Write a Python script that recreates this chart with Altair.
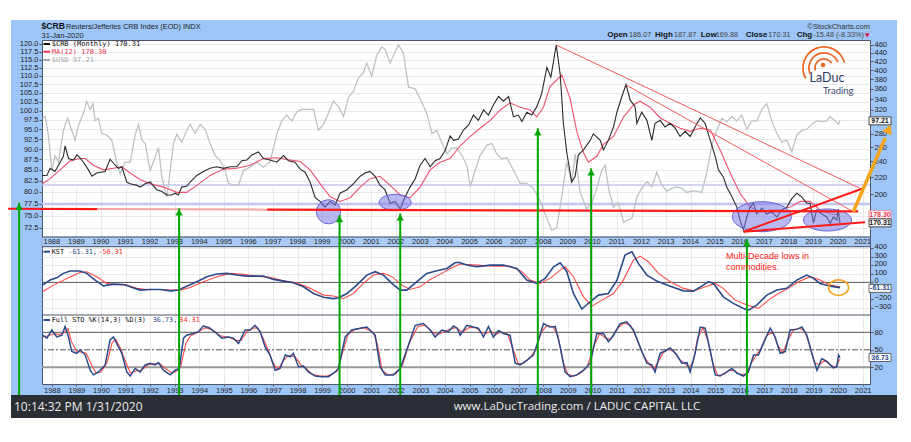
import altair as alt
import pandas as pd

# ---------------- data ----------------
year_ticks = list(range(1988, 2022))

crb_pts = [[1987.62,222],[1987.80,222],[1987.93,231],[1988.13,227],[1988.34,239],[1988.47,247],[1988.54,262],[1988.68,244],
[1988.88,242],[1989.02,249],[1989.12,246],[1989.29,239],[1989.49,229],[1989.63,221],[1989.83,225],[1990.17,227],[1990.37,243],
[1990.58,235],[1990.71,231],[1990.85,233],[1991.05,214],[1991.19,212],[1991.46,210],[1991.59,208],[1991.80,212],[1992.00,214],
[1992.27,205],[1992.48,203],[1992.68,199],[1992.88,199],[1993.02,201],[1993.15,199],[1993.29,208],[1993.49,209],[1993.63,214],
[1993.90,222],[1994.17,227],[1994.44,231],[1994.71,233],[1994.99,231],[1995.26,233],[1995.53,233],[1995.73,241],[1995.94,242],
[1996.14,249],[1996.41,253],[1996.61,244],[1996.88,242],[1997.16,239],[1997.43,248],[1997.63,241],[1997.90,239],[1998.11,230],
[1998.31,226],[1998.51,214],[1998.72,196],[1998.92,192],[1999.12,186],[1999.33,192],[1999.53,188],[1999.73,201],[2000.01,205],
[2000.28,212],[2000.55,221],[2000.75,225],[2000.95,227],[2001.16,221],[2001.36,210],[2001.56,205],[2001.77,190],[2001.97,192],
[2002.18,184],[2002.38,197],[2002.58,208],[2002.79,218],[2002.99,235],[2003.19,244],[2003.40,233],[2003.60,241],[2003.80,244],
[2004.01,255],[2004.21,277],[2004.35,270],[2004.55,272],[2004.75,286],[2004.96,294],[2005.16,311],[2005.36,302],[2005.57,320],
[2005.77,311],[2005.97,329],[2006.18,345],[2006.38,336],[2006.59,345],[2006.79,308],[2006.99,311],[2007.13,300],[2007.33,316],
[2007.53,311],[2007.74,326],[2007.94,351],[2008.15,406],[2008.31,384],[2008.53,460],[2008.69,391],[2008.82,297],[2008.96,252],
[2009.16,214],[2009.30,221],[2009.43,249],[2009.64,256],[2009.91,270],[2010.04,280],[2010.32,270],[2010.45,256],[2010.65,270],
[2010.86,291],[2011.00,316],[2011.20,345],[2011.37,369],[2011.54,338],[2011.74,326],[2011.81,297],[2012.01,316],[2012.22,302],
[2012.42,270],[2012.55,297],[2012.76,302],[2012.96,291],[2013.16,297],[2013.37,289],[2013.57,276],[2013.78,284],[2013.98,276],
[2014.18,291],[2014.39,306],[2014.59,297],[2014.80,270],[2015.00,247],[2015.13,229],[2015.33,220],[2015.47,208],[2015.68,197],
[2015.88,186],[2016.01,173],[2016.15,164],[2016.29,176],[2016.42,186],[2016.56,190],[2016.69,179],[2016.90,185],[2017.10,179],
[2017.30,181],[2017.51,176],[2017.71,183],[2017.91,186],[2018.12,195],[2018.32,201],[2018.52,197],[2018.73,190],[2018.86,190],
[2019.00,170],[2019.13,183],[2019.34,179],[2019.54,176],[2019.68,170],[2019.81,176],[2019.95,173],[2020.00,184],[2020.08,170.31]]

ma_pts = [[1987.62,212],[1987.93,218],[1988.34,229],[1988.74,241],[1989.15,244],[1989.36,244],[1989.69,235],[1990.10,229],
[1990.51,231],[1990.85,233],[1991.19,225],[1991.59,217],[1992.00,212],[1992.54,208],[1993.09,202],[1993.49,202],[1993.90,210],
[1994.44,222],[1994.99,230],[1995.53,231],[1996.07,235],[1996.61,244],[1997.16,245],[1997.70,242],[1998.11,240],[1998.51,229],
[1998.92,212],[1999.33,197],[1999.73,192],[2000.14,196],[2000.55,208],[2000.95,218],[2001.36,221],[2001.77,210],[2002.18,199],
[2002.58,196],[2002.99,208],[2003.40,229],[2003.80,239],[2004.21,244],[2004.62,262],[2005.03,276],[2005.43,289],[2005.84,302],
[2006.25,320],[2006.65,333],[2007.06,325],[2007.47,320],[2007.74,308],[2008.01,325],[2008.28,365],[2008.76,389],[2009.10,340],
[2009.37,283],[2009.64,252],[2009.84,239],[2010.18,247],[2010.45,264],[2010.86,276],[2011.27,308],[2011.67,329],[2011.94,336],
[2012.35,325],[2012.76,306],[2013.16,297],[2013.57,289],[2013.98,284],[2014.39,289],[2014.80,286],[2015.20,256],[2015.61,225],
[2016.01,201],[2016.42,186],[2016.83,181],[2017.24,183],[2017.64,183],[2018.05,186],[2018.46,192],[2018.86,192],[2019.27,183],
[2019.68,179],[2020.08,178.30]]

usd_pts = [[1987.62,97.9],[1987.73,98.4],[1987.86,93.5],[1988.00,84.9],[1988.13,88.4],[1988.27,86.8],[1988.47,94.7],[1988.64,97.9],
[1988.81,94.7],[1988.95,92.2],[1989.08,95.9],[1989.29,99.3],[1989.42,102.6],[1989.56,100.3],[1989.67,101.9],[1989.76,97.2],
[1989.90,97.9],[1990.03,93.9],[1990.24,93.5],[1990.44,92.2],[1990.64,86.8],[1990.78,84.1],[1990.98,86.8],[1991.19,86.8],
[1991.39,93.5],[1991.53,96.3],[1991.66,92.2],[1991.80,91.4],[1992.00,84.9],[1992.20,87.9],[1992.34,90.3],[1992.48,83.3],
[1992.68,78.9],[1992.82,84.9],[1992.95,91.4],[1993.09,93.7],[1993.29,91.7],[1993.49,94.7],[1993.63,96.3],[1993.83,93.9],
[1994.04,96.3],[1994.24,95.0],[1994.44,91.4],[1994.65,88.4],[1994.85,87.2],[1995.05,84.9],[1995.19,81.9],[1995.39,81.5],
[1995.60,81.5],[1995.80,84.9],[1996.07,85.6],[1996.34,86.8],[1996.61,85.6],[1996.88,86.8],[1997.16,93.9],[1997.36,97.2],
[1997.56,98.8],[1997.77,97.2],[1997.97,99.6],[1998.17,100.3],[1998.38,100.3],[1998.65,100.3],[1998.85,94.7],[1999.06,96.3],
[1999.26,99.3],[1999.46,102.6],[1999.67,101.1],[1999.87,98.4],[2000.07,103.6],[2000.28,105.5],[2000.48,109.4],[2000.68,110.9],
[2000.82,113.9],[2001.02,109.9],[2001.23,116.4],[2001.43,119.1],[2001.57,118.1],[2001.77,113.9],[2001.97,117.5],[2002.11,119.7],
[2002.31,117.0],[2002.52,106.6],[2002.79,106.1],[2002.99,103.3],[2003.26,99.3],[2003.47,93.9],[2003.67,94.7],[2003.87,91.7],
[2004.08,88.8],[2004.28,90.3],[2004.48,90.3],[2004.69,88.4],[2004.89,86.1],[2005.03,81.1],[2005.23,84.9],[2005.43,88.4],
[2005.70,90.9],[2005.91,91.4],[2006.11,88.8],[2006.31,87.6],[2006.52,87.9],[2006.79,84.9],[2007.06,81.9],[2007.33,81.9],
[2007.60,80.8],[2007.87,78.1],[2008.15,74.4],[2008.35,72.0],[2008.55,72.5],[2008.75,78.9],[2008.96,86.8],[2009.16,81.9],
[2009.30,88.8],[2009.50,79.9],[2009.77,76.4],[2009.98,77.7],[2010.18,80.8],[2010.38,84.9],[2010.52,86.1],[2010.66,80.8],
[2010.86,76.7],[2011.06,77.7],[2011.27,73.6],[2011.40,74.0],[2011.61,74.4],[2011.81,78.9],[2012.01,80.8],[2012.22,82.3],
[2012.42,81.1],[2012.62,84.4],[2012.83,81.5],[2013.03,80.2],[2013.23,80.8],[2013.44,81.1],[2013.64,80.8],[2013.84,79.9],
[2014.05,80.2],[2014.25,80.2],[2014.45,79.9],[2014.66,84.4],[2014.86,90.9],[2015.06,94.7],[2015.27,97.9],[2015.47,97.0],
[2015.68,98.4],[2015.88,97.2],[2016.08,98.8],[2016.29,95.0],[2016.49,97.2],[2016.69,97.2],[2016.90,100.3],[2017.10,101.9],
[2017.30,97.2],[2017.51,93.9],[2017.71,91.7],[2017.91,92.2],[2018.12,89.3],[2018.32,93.5],[2018.52,94.7],[2018.73,95.0],
[2018.93,96.3],[2019.13,97.2],[2019.34,97.0],[2019.54,97.2],[2019.68,98.4],[2019.88,97.2],[2020.02,96.3],[2020.08,97.21]]

kst_pts = [[1987.62,-32],[1987.93,27],[1988.20,54],[1988.47,106],[1988.74,133],[1989.15,133],[1989.42,106],[1989.76,27],
[1990.10,-40],[1990.51,-20],[1990.92,-24],[1991.19,-52],[1991.59,-90],[1992.00,-83],[1992.41,-83],[1992.82,-99],[1993.15,-90],
[1993.49,-44],[1993.90,8],[1994.31,67],[1994.71,98],[1995.12,106],[1995.53,86],[1995.94,74],[1996.34,74],[1996.61,74],
[1997.02,35],[1997.43,15],[1997.83,-5],[1998.24,-52],[1998.65,-130],[1999.06,-175],[1999.46,-190],[1999.67,-180],[2000.01,-130],
[2000.41,-32],[2000.82,86],[2001.16,125],[2001.50,86],[2001.84,-12],[2002.18,-90],[2002.45,-90],[2002.86,8],[2003.26,106],
[2003.67,137],[2004.08,164],[2004.41,230],[2004.55,236],[2004.89,203],[2005.30,183],[2005.84,203],[2006.38,203],[2006.93,164],
[2007.33,27],[2007.74,-12],[2008.08,47],[2008.42,183],[2008.69,230],[2008.96,125],[2009.23,-130],[2009.57,-313],[2009.91,-227],
[2010.25,-149],[2010.65,-130],[2011.00,27],[2011.33,320],[2011.61,359],[2011.87,223],[2012.22,86],[2012.62,15],[2013.17,-44],
[2013.71,-99],[2014.11,-102],[2014.52,-32],[2014.72,8],[2014.93,-12],[2015.33,-169],[2015.74,-246],[2016.15,-305],[2016.35,-325],
[2016.69,-266],[2017.10,-149],[2017.51,-90],[2017.91,-70],[2018.32,27],[2018.73,86],[2019.00,47],[2019.27,-12],[2019.68,-44],
[2020.08,-61.31]]

kst_sig_pts = [[1987.62,-110],[1988.07,-32],[1988.61,47],[1989.15,117],[1989.42,125],[1989.83,67],[1990.24,-12],[1990.64,-24],
[1991.05,-32],[1991.46,-70],[1991.87,-83],[1992.41,-83],[1992.82,-90],[1993.22,-90],[1993.63,-59],[1994.17,8],[1994.71,67],
[1995.26,106],[1995.80,94],[1996.34,74],[1996.88,59],[1997.43,20],[1997.97,-5],[1998.51,-70],[1999.06,-149],[1999.46,-160],
[1999.87,-188],[2000.28,-130],[2000.68,-12],[2001.09,86],[2001.50,106],[2001.84,67],[2002.25,-32],[2002.58,-83],[2002.99,-52],
[2003.40,35],[2003.80,94],[2004.21,164],[2004.62,215],[2005.30,203],[2005.97,191],[2006.65,191],[2007.13,125],[2007.47,27],
[2007.87,-12],[2008.28,47],[2008.69,144],[2008.89,183],[2009.23,67],[2009.64,-169],[2009.98,-278],[2010.39,-208],[2010.86,-130],
[2011.26,27],[2011.67,261],[2011.94,308],[2012.28,242],[2012.69,106],[2013.17,8],[2013.71,-70],[2014.11,-99],[2014.52,-61],
[2015.00,-12],[2015.33,-70],[2015.81,-208],[2016.29,-266],[2016.76,-305],[2017.17,-208],[2017.57,-130],[2017.98,-70],
[2018.39,8],[2018.86,67],[2019.27,27],[2019.68,-32],[2020.08,-50.31]]

stok_pts = [[1987.62,75],[1987.80,70],[1988.00,84],[1988.20,72],[1988.41,75],[1988.54,90],[1988.68,72],[1988.81,47],[1989.02,44],
[1989.15,50],[1989.36,41],[1989.56,15],[1989.69,7],[1989.90,12],[1990.17,24],[1990.37,67],[1990.51,72],[1990.71,55],[1990.85,44],
[1991.05,12],[1991.19,5],[1991.39,18],[1991.59,12],[1991.80,24],[1992.00,27],[1992.20,24],[1992.34,28],[1992.54,15],[1992.82,7],
[1993.02,15],[1993.19,18],[1993.36,70],[1993.49,75],[1993.76,78],[1993.97,81],[1994.17,91],[1994.44,87],[1994.71,78],[1994.92,70],
[1995.19,72],[1995.39,70],[1995.60,61],[1995.87,84],[1996.07,84],[1996.27,92],[1996.48,81],[1996.68,55],[1996.88,41],[1997.09,15],
[1997.29,18],[1997.50,41],[1997.70,38],[1997.83,44],[1998.04,21],[1998.24,22],[1998.44,12],[1998.72,5],[1998.99,4],[1999.26,4],
[1999.53,12],[1999.67,18],[1999.94,72],[2000.21,84],[2000.55,87],[2000.82,89],[2001.02,81],[2001.16,75],[2001.36,21],[2001.57,7],
[2001.90,7],[2002.18,18],[2002.45,50],[2002.79,92],[2003.12,95],[2003.40,84],[2003.60,72],[2003.87,84],[2004.14,81],[2004.35,91],
[2004.50,87],[2004.62,75],[2004.89,92],[2005.16,89],[2005.36,87],[2005.57,72],[2005.77,90],[2005.97,72],[2006.18,83],[2006.38,78],
[2006.65,75],[2006.86,27],[2007.06,24],[2007.33,32],[2007.60,41],[2007.81,67],[2008.01,95],[2008.28,89],[2008.49,90],[2008.69,55],
[2008.89,12],[2009.10,4],[2009.37,7],[2009.64,15],[2009.91,27],[2010.18,78],[2010.45,78],[2010.65,64],[2010.86,75],[2011.13,95],
[2011.40,98],[2011.67,84],[2011.94,55],[2012.22,27],[2012.42,24],[2012.55,12],[2012.76,44],[2012.96,48],[2013.17,53],[2013.44,41],
[2013.64,27],[2013.85,28],[2013.98,12],[2014.18,44],[2014.39,89],[2014.59,87],[2014.79,50],[2015.00,7],[2015.20,5],[2015.47,12],
[2015.68,18],[2015.88,10],[2016.15,5],[2016.35,12],[2016.56,41],[2016.76,41],[2016.96,61],[2017.24,87],[2017.44,72],[2017.64,44],
[2017.85,47],[2018.05,84],[2018.32,85],[2018.53,89],[2018.73,75],[2018.93,44],[2019.14,15],[2019.34,35],[2019.54,30],[2019.81,19],
[2019.95,21],[2020.02,41],[2020.08,36.73]]

stod_pts = [[1987.62,72],[1987.85,74],[1988.10,78],[1988.30,76],[1988.50,80],[1988.66,86],[1988.80,64],[1989.00,48],[1989.20,46],
[1989.40,44],[1989.62,24],[1989.80,10],[1990.00,12],[1990.25,28],[1990.45,62],[1990.60,68],[1990.80,52],[1991.00,30],[1991.20,10],
[1991.45,14],[1991.65,15],[1991.90,24],[1992.10,26],[1992.40,26],[1992.62,18],[1992.90,10],[1993.10,14],[1993.25,22],[1993.45,60],
[1993.62,73],[1993.90,79],[1994.25,88],[1994.55,84],[1994.85,74],[1995.25,71],[1995.50,66],[1995.70,66],[1995.95,82],[1996.20,87],
[1996.38,88],[1996.60,70],[1996.80,50],[1997.00,28],[1997.20,16],[1997.40,30],[1997.62,40],[1997.90,38],[1998.12,25],[1998.35,18],
[1998.60,8],[1998.90,5],[1999.20,5],[1999.40,8],[1999.62,14],[1999.80,40],[2000.05,76],[2000.35,85],[2000.70,88],[2001.08,80],
[2001.25,60],[2001.45,14],[2001.70,7],[2002.00,9],[2002.28,24],[2002.55,62],[2002.90,90],[2003.20,92],[2003.50,80],[2003.72,76],
[2004.00,82],[2004.25,86],[2004.45,88],[2004.70,80],[2004.98,88],[2005.25,88],[2005.48,80],[2005.67,78],[2005.87,82],[2006.05,76],
[2006.28,80],[2006.55,77],[2006.80,48],[2006.98,26],[2007.20,27],[2007.45,36],[2007.70,50],[2007.92,80],[2008.15,92],[2008.40,89],
[2008.60,74],[2008.80,30],[2009.00,8],[2009.25,5],[2009.52,10],[2009.78,20],[2010.05,55],[2010.30,78],[2010.55,70],[2010.75,68],
[2011.00,86],[2011.28,96],[2011.55,92],[2011.80,70],[2012.08,40],[2012.32,25],[2012.50,17],[2012.66,28],[2012.88,45],[2013.08,51],
[2013.30,48],[2013.55,33],[2013.75,27],[2013.92,20],[2014.10,28],[2014.28,70],[2014.50,88],[2014.70,66],[2014.90,28],[2015.10,6],
[2015.35,8],[2015.58,15],[2015.78,14],[2016.00,8],[2016.25,8],[2016.46,26],[2016.66,40],[2016.86,52],[2017.10,75],[2017.35,80],
[2017.54,58],[2017.75,44],[2017.95,66],[2018.20,85],[2018.42,87],[2018.64,82],[2018.83,60],[2019.04,28],[2019.25,24],[2019.45,32],
[2019.68,24],[2019.90,20],[2020.08,34.31]]

# annotation values
lavender_levels = [210.4, 189.3]
support_bold = [[[1986.22, 184.3], [1989.84, 184.0]], [[1996.76, 183.4], [2020.82, 181.6]]]
support_pale = [[1989.84, 184.0], [1996.76, 183.4]]
thin_trends = [[[2008.53, 460.0], [2020.90, 206.5]], [[2011.37, 367.9], [2020.62, 181.3]]]
bold_trends = [[[2016.15, 162.1], [2021.03, 206.6]], [[2016.15, 162.1], [2021.10, 170.9]]]
ell_pts = [[1999.26, 181.2], [2001.97, 191.0], [2016.90, 176.3], [2019.57, 173.1]]
ell_px = [[24, 24], [32, 16], [59, 30], [48, 22]]
arrow_years = [1986.67, 1993.18, 1999.71, 2002.18, 2007.78, 2009.95, 2016.29]
arrow_tips = [190.6, 184.7, 178.0, 179.6, 288.9, 231.0, 155.7]
orange_line = [[2020.62, 181.3], [2021.92, 273.6]]
orange_head = [2022.06, 287.7]
kst_circle = [2020.02, -62]
last_usd, last_ma, last_crb, last_kst, last_sto = 97.21, 178.30, 170.31, -61.31, 36.73
sto_levels = [80, 50, 20]
usd_ticks = [72.5 + 2.5 * i for i in range(20)]
crb_ticks = [200, 220, 240, 260, 280, 320, 340, 360, 380, 400, 420, 440, 460]   # 300 sits under the 97.21 box
kst_ticks = [-300, -200, 0, 100, 200, 300, 400]                                 # -100 sits under the -61.31 box

# ---------------- scales / axes ----------------
AXF = 'Liberation Sans'
XS = alt.Scale(domain=[1987.6, 2021.3], nice=False, zero=False)
XAX = alt.Axis(values=year_ticks, format='d', title=None, labelFontSize=7.5, labelFont=AXF, labelColor='#222',
               tickSize=2, tickColor='#555', grid=True, gridColor='#e3e3e3', gridWidth=0.8, domain=False,
               labelPadding=0, labelFlush=False, labelOverlap=False)
USD_S = alt.Scale(type='log', domain=[70.72, 121.32], range=[197, 0], nice=False)
CRB_S = alt.Scale(type='log', domain=[157.4, 473.0], range=[197, 0], nice=False)
KST_S = alt.Scale(domain=[-382.2, 418.5], range=[275, 206.7], nice=False, zero=False)
STO_S = alt.Scale(domain=[-8.63, 109.66], range=[344, 275], nice=False, zero=False)

def yax(orient, values, fmt, grid=False, offset=0):
    return alt.Axis(orient=orient, values=values, format=fmt, title=None, labelFontSize=7.5, labelFont=AXF,
                    labelColor='#222', tickSize=3, tickColor='#555', grid=grid, gridColor='#e3e3e3',
                    gridWidth=0.8, domain=False, labelPadding=1, labelOverlap=False, labelOffset=offset)

def X(f='yr'):
    return alt.X(f, type='quantitative', scale=XS, axis=XAX)

def pts_df(pts):
    return pd.DataFrame(pts, columns=['yr', 'v'])

DUMMY = pd.DataFrame({'d': [0]})

def vtext(s, x, y, size=7.5, color='#111', weight='normal', align='left', font=AXF):
    return alt.Chart(DUMMY).mark_text(text=s, fontSize=size, color=color, fontWeight=weight, align=align,
                                      baseline='middle', font=font).encode(x=alt.value(x), y=alt.value(y))

def vrect(x1, x2, y1, y2, fill, **kw):
    return alt.Chart(DUMMY).mark_rect(fill=fill, **kw).encode(
        x=alt.value(x1), x2=alt.value(x2), y=alt.value(y1), y2=alt.value(y2))

def vrule(x1, x2, y1, y2, color, width=1.0, **kw):
    return alt.Chart(DUMMY).mark_rule(color=color, strokeWidth=width, **kw).encode(
        x=alt.value(x1), x2=alt.value(x2), y=alt.value(y1), y2=alt.value(y2))

def seg_line(segs, scale, color, width, **kw):
    rows = []
    for i, s in enumerate(segs):
        for p in s:
            rows.append({'seg': i, 'yr': p[0], 'v': p[1]})
    return alt.Chart(pd.DataFrame(rows)).mark_line(color=color, strokeWidth=width, **kw).encode(
        x=X(), y=alt.Y('v:Q', scale=scale, axis=None), detail='seg:N')

def ell_path(r):
    return f"M -1 0 A 1 {r:.3f} 0 1 1 1 0 A 1 {r:.3f} 0 1 1 -1 0 Z"

BOX = "M -1 -0.36 L 1 -0.36 L 1 0.36 L -1 0.36 Z"

NAVY = '#2b4a8b'
RED = '#ff4a4a'
GREEN = '#00a600'
ORANGE = '#f5a51c'

layers = []

# white page margin strips, footer, year strip
layers.append(vrect(-34, 855, -32, -20, 'white'))
layers.append(vrect(-34, -31, -32, 378, 'white'))
layers.append(vrect(-31, 855, 355, 378, '#2a2e35'))
layers.append(vrect(0, 828, 197, 206.7, '#a9cbf6', stroke='#6f8fc0', strokeDash=[1, 1], strokeWidth=0.8))
layers.append(alt.Chart(pd.DataFrame({'yr': year_ticks})).mark_text(fontSize=7.5, font=AXF, color='#222').encode(
    x=X(), y=alt.value(201.8), text=alt.Text('yr:Q', format='d')))

# lavender horizontal levels
for lv in lavender_levels:
    layers.append(alt.Chart(DUMMY).mark_rule(color='#c4c4f2', strokeWidth=2.4 if lv < 200 else 1.4).encode(
        y=alt.YDatum(lv, scale=CRB_S, axis=None)))

# USD overlay
layers.append(alt.Chart(pts_df(usd_pts)).mark_line(color='#bec2c6', strokeWidth=1.3).encode(
    x=X(), y=alt.Y('v:Q', scale=USD_S, axis=yax('left', usd_ticks, '.1f', grid=True))))

# pale part of support line
layers.append(seg_line([support_pale], CRB_S, '#f6a4a4', 2.0))

# MA and CRB
layers.append(alt.Chart(pts_df(ma_pts)).mark_line(color='#f0506e', strokeWidth=1.1).encode(
    x=X(), y=alt.Y('v:Q', scale=CRB_S, axis=None)))
layers.append(alt.Chart(pts_df(crb_pts)).mark_line(color='#2a2a2a', strokeWidth=1.1).encode(
    x=X(), y=alt.Y('v:Q', scale=CRB_S, axis=yax('right', crb_ticks, 'd'))))

# ellipses
for (yr, v), (w, h) in zip(ell_pts, ell_px):
    layers.append(alt.Chart(pd.DataFrame({'yr': [yr], 'v': [v]})).mark_point(
        shape=ell_path(h / w), size=w * w, filled=True, fill='#7b7be8', fillOpacity=0.55,
        stroke='#6464d8', strokeWidth=1, opacity=1).encode(x=X(), y=alt.Y('v:Q', scale=CRB_S, axis=None)))

# trend lines
layers.append(seg_line(thin_trends, CRB_S, '#f25a5a', 1.0))
layers.append(seg_line(support_bold, CRB_S, '#ff1a1a', 2.2))
layers.append(seg_line(bold_trends, CRB_S, '#ff1a1a', 2.0))

# KST panel
layers.append(alt.Chart(DUMMY).mark_rule(color='#555', strokeWidth=1).encode(y=alt.YDatum(0, scale=KST_S, axis=None)))
layers.append(alt.Chart(pts_df(kst_sig_pts)).mark_line(color=RED, strokeWidth=1.1).encode(
    x=X(), y=alt.Y('v:Q', scale=KST_S, axis=None)))
layers.append(alt.Chart(pts_df(kst_pts)).mark_line(color=NAVY, strokeWidth=1.6).encode(
    x=X(), y=alt.Y('v:Q', scale=KST_S, axis=yax('right', kst_ticks, 'd', grid=True, offset=-1.5))))

# STO panel
layers.append(alt.Chart(DUMMY).mark_rule(color='#555', strokeWidth=1).encode(y=alt.YDatum(sto_levels[0], scale=STO_S, axis=None)))
layers.append(alt.Chart(DUMMY).mark_rule(color='#555', strokeWidth=1, strokeDash=[6, 2, 2, 2]).encode(y=alt.YDatum(sto_levels[1], scale=STO_S, axis=None)))
layers.append(alt.Chart(DUMMY).mark_rule(color='#999', strokeWidth=2).encode(y=alt.YDatum(sto_levels[2], scale=STO_S, axis=None)))
layers.append(alt.Chart(pts_df(stod_pts)).mark_line(color=RED, strokeWidth=1.1).encode(
    x=X(), y=alt.Y('v:Q', scale=STO_S, axis=None)))
layers.append(alt.Chart(pts_df(stok_pts)).mark_line(color=NAVY, strokeWidth=1.5).encode(
    x=X(), y=alt.Y('v:Q', scale=STO_S, axis=yax('right', sto_levels, 'd'))))

# panel borders
for yy in [197, 206.7, 275]:
    layers.append(vrule(0, 828, yy, yy, '#4d5566', 1))

# green arrows
arr_df = pd.DataFrame({'yr': arrow_years, 'v': arrow_tips})
layers.append(alt.Chart(arr_df).mark_rule(color=GREEN, strokeWidth=2).encode(
    x=X(), y=alt.Y('v:Q', scale=CRB_S, axis=None), y2=alt.value(355)))
layers.append(alt.Chart(arr_df).mark_point(shape='triangle-up', size=55, filled=True, color=GREEN, opacity=1,
                                           yOffset=4).encode(x=X(), y=alt.Y('v:Q', scale=CRB_S, axis=None)))

# orange arrow and circle
layers.append(seg_line([orange_line], CRB_S, ORANGE, 3.5))
layers.append(alt.Chart(pd.DataFrame({'yr': [orange_head[0]], 'v': [orange_head[1]]})).mark_point(
    shape='triangle-up', angle=23, size=110, filled=True, color=ORANGE, opacity=1).encode(
    x=X(), y=alt.Y('v:Q', scale=CRB_S, axis=None)))
layers.append(alt.Chart(pd.DataFrame({'yr': [kst_circle[0]], 'v': [kst_circle[1]]})).mark_point(
    shape=ell_path(0.78), size=400, filled=False, stroke=ORANGE, strokeWidth=1.6, opacity=1).encode(
    x=X(), y=alt.Y('v:Q', scale=KST_S, axis=None)))

# last-value boxes on right axis
def value_box(val, scale, txt, color, border, dy=0):
    b = alt.Chart(DUMMY).mark_point(shape=BOX, size=484, filled=True, fill='white', stroke=border,
                                    strokeWidth=0.9, opacity=1, yOffset=dy).encode(
        x=alt.value(838), y=alt.YDatum(val, scale=scale, axis=None))
    t = alt.Chart(DUMMY).mark_text(text=txt, fontSize=7, font=AXF, fontWeight='bold', color=color,
                                   align='center', baseline='middle', dy=dy).encode(
        x=alt.value(838), y=alt.YDatum(val, scale=scale, axis=None))
    return [b, t]

layers += value_box(last_usd, USD_S, '97.21', '#111', '#333')
layers += value_box(last_ma, CRB_S, '178.30', '#e8344e', '#f07890')
layers += value_box(last_crb, CRB_S, '170.31', '#111', '#333')
layers += value_box(last_kst, KST_S, '-61.31', NAVY, '#555', dy=0.8)
layers += value_box(last_sto, STO_S, '36.73', NAVY, '#555')

# header texts
layers.append(vtext('$CRB', -0.5, -14, size=8.6, weight='bold', color='#111'))
layers.append(vtext('Reuters/Jefferies CRB Index (EOD)  INDX', 24, -13.5, size=7.3, color='#222'))
layers.append(vtext('31-Jan-2020', -0.5, -4.5, size=7.5, color='#222'))
layers.append(vtext('\u00a9StockCharts.com', 828, -13.3, size=7.5, color='#333', align='right'))
ohlc = [('Open', 565.3, True), ('186.07', 587, False), ('High', 613, True), ('187.87', 632, False),
        ('Low', 658.7, True), ('169.88', 673.7, False), ('Close', 703.7, True), ('170.31', 726.3, False),
        ('Chg', 754.7, True), ('-15.48 (-8.33%)', 771.3, False)]
for s, xx, bold in ohlc:
    layers.append(vtext(s, xx, -5, size=8 if bold else 7.3, weight='bold' if bold else 'normal',
                        color='#111' if bold else '#444'))
layers.append(vtext('\u25bc', 823, -5, size=6, color='#d0204a', font='DejaVu Sans'))

# legends
MONO = 'DejaVu Sans Mono'
for yy, col, s in [(4, '#111', '$CRB (Monthly) 170.31'), (11.7, '#e8344e', 'MA(12) 178.30'), (20, '#a0a5aa', '$USD 97.21')]:
    layers.append(vrule(1.5, 8, yy, yy, col, 2))
    layers.append(vtext(s, 9.7, yy, size=7, color=col, font=MONO))
layers.append(vrule(1.5, 8, 211.7, 211.7, NAVY, 2))
layers.append(vtext('KST', 9.7, 211.7, size=6.8, color='#111', font=MONO))
layers.append(vtext('-61.31,', 26.3, 211.7, size=6.8, color=NAVY, font=MONO))
layers.append(vtext('-50.31', 56.3, 211.7, size=6.8, color='#ff2a2a', font=MONO))
layers.append(vrule(1.5, 8, 280, 280, NAVY, 2))
layers.append(vtext('Full STO %K(14,3) %D(3)', 9.7, 280, size=6.8, color='#111', font=MONO))
layers.append(vtext('36.73,', 110.7, 280, size=6.8, color=NAVY, font=MONO))
layers.append(vtext('34.31', 137.3, 280, size=6.8, color='#ff2a2a', font=MONO))

# annotation
layers.append(vtext('Multi-Decade lows in', 684, 216, size=9, color='#ff2020'))
layers.append(vtext('commodities.', 684, 226.7, size=9, color='#ff2020'))

# LaDuc logo
LOGO = '#ee6a2a'
for r, t1, t2 in [(22, 4.2, 7.6), (16, 4.3, 7.45), (10, 4.45, 7.3)]:
    layers.append(alt.Chart(DUMMY).mark_arc(radius=r, radius2=r - 1.8, theta=t1, theta2=t2, color=LOGO).encode(
        x=alt.value(782), y=alt.value(28)))
layers.append(alt.Chart(DUMMY).mark_point(shape='circle', size=22, filled=True, color=LOGO, opacity=1).encode(
    x=alt.value(781), y=alt.value(25)))
layers.append(vtext('LaDuc', 767.5, 37.5, size=12.5, color='#2e3d63', font='Lato'))
layers.append(vtext('Trading', 781, 51, size=9.5, color='#3d4a6e', font='Lato'))

# footer
layers.append(vtext('10:14:32 PM 1/31/2020', -28, 366.5, size=12, color='#ececec', font='Open Sans'))
layers.append(vtext('www.LaDucTrading.com / LADUC CAPITAL LLC', 535, 367, size=11.5, color='#ececec',
                    align='center', font='Open Sans'))

chart = alt.layer(*layers).resolve_scale(y='independent').resolve_axis(y='independent').properties(
    width=828, height=344,
    autosize=alt.AutoSizeParams(type='none'),
    padding={'left': 34, 'top': 32, 'right': 27, 'bottom': 34},
    background='#9ec5f7',
).configure_view(fill='white', stroke='#4d5566', strokeWidth=1)

chart.save('out.html', embed_options={'renderer': 'svg', 'actions': False})
